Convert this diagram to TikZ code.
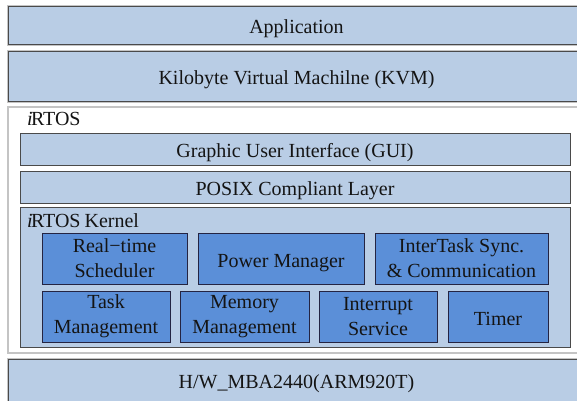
\documentclass[tikz,border=0pt]{standalone}
\usepackage{fontspec}
\setmainfont{Liberation Serif}
\definecolor{paleblue}{HTML}{B9CDE5}
\definecolor{midblue}{HTML}{5B8FD8}
\definecolor{edgegray}{HTML}{4A4A4A}
\definecolor{halogray}{HTML}{C4C4C4}
\definecolor{inkdark}{HTML}{141414}
\begin{document}
\begin{tikzpicture}[x=1pt,y=-1pt,
  every node/.style={inner sep=0pt, outer sep=0pt, text=inkdark,
    font=\fontsize{20}{25}\selectfont, align=center},
  oneline/.style={text height=17pt, text depth=0pt},
  layer/.style={draw=edgegray, line width=1pt, fill=paleblue,
    preaction={draw=halogray, line width=3pt}},
  sublayer/.style={draw=edgegray, line width=0.9pt, fill=paleblue},
  module/.style={draw=edgegray!80!blue!60!black, line width=0.9pt, fill=midblue},
  frame/.style={draw=halogray, line width=1.6pt, fill=white},
  tag/.style={anchor=base west, align=left}]
\useasboundingbox (0,0) rectangle (577,400);
\clip (0,0) rectangle (577,400);
\fill[white] (0,0) rectangle (577,400);

% top layers
\node[layer, oneline, minimum width=577pt, minimum height=38pt] (app) at (296.5,25) {Application};
\node[layer, oneline, minimum width=577pt, minimum height=50pt] (kvm) at (296.5,76) {Kilobyte Virtual Machilne (KVM)};

% operating system frame
\node[frame, minimum width=577pt, minimum height=246pt] (rtos) at (296.5,230) {};
\node[tag] (rtoslbl) at (27,125) {\textit{i}\kern-1.5pt RTOS};

\node[sublayer, oneline, minimum width=550pt, minimum height=32pt] (gui) at (295,149) {Graphic User Interface (GUI)};
\node[sublayer, oneline, minimum width=550pt, minimum height=32pt] (posix) at (295,187) {POSIX Compliant Layer};

% kernel and its modules
\node[sublayer, minimum width=550pt, minimum height=140pt] (kernel) at (295,277) {};
\node[tag] (kernellbl) at (27,227) {\textit{i}\kern-1.5pt RTOS\kern-1pt\ Kernel};

\node[module, minimum width=145pt, minimum height=51pt] (sched) at (114.5,258.5) {Real−time\\Scheduler};
\node[module, oneline, minimum width=166pt, minimum height=51pt] (power) at (281,258.5) {Power Manager};
\node[module, minimum width=173pt, minimum height=51pt] (itc) at (461.5,258.5) {InterTask Sync.\\\& Communication};

\node[module, minimum width=128pt, minimum height=51pt] (task) at (106,316.5) {Task\\Management};
\node[module, minimum width=129pt, minimum height=51pt] (mem) at (244.5,316.5) {Memory\\Management};
\node[module, minimum width=118pt, minimum height=51pt] (intr) at (378,316.5) {Interrupt\\Service};
\node[module, oneline, minimum width=100pt, minimum height=51pt] (timer) at (498,316.5) {Timer};

% hardware layer
\node[layer, oneline, minimum width=577pt, minimum height=42pt] (hw) at (296.5,380) {H/W\_MBA2440(ARM920T)};
\end{tikzpicture}
\end{document}
